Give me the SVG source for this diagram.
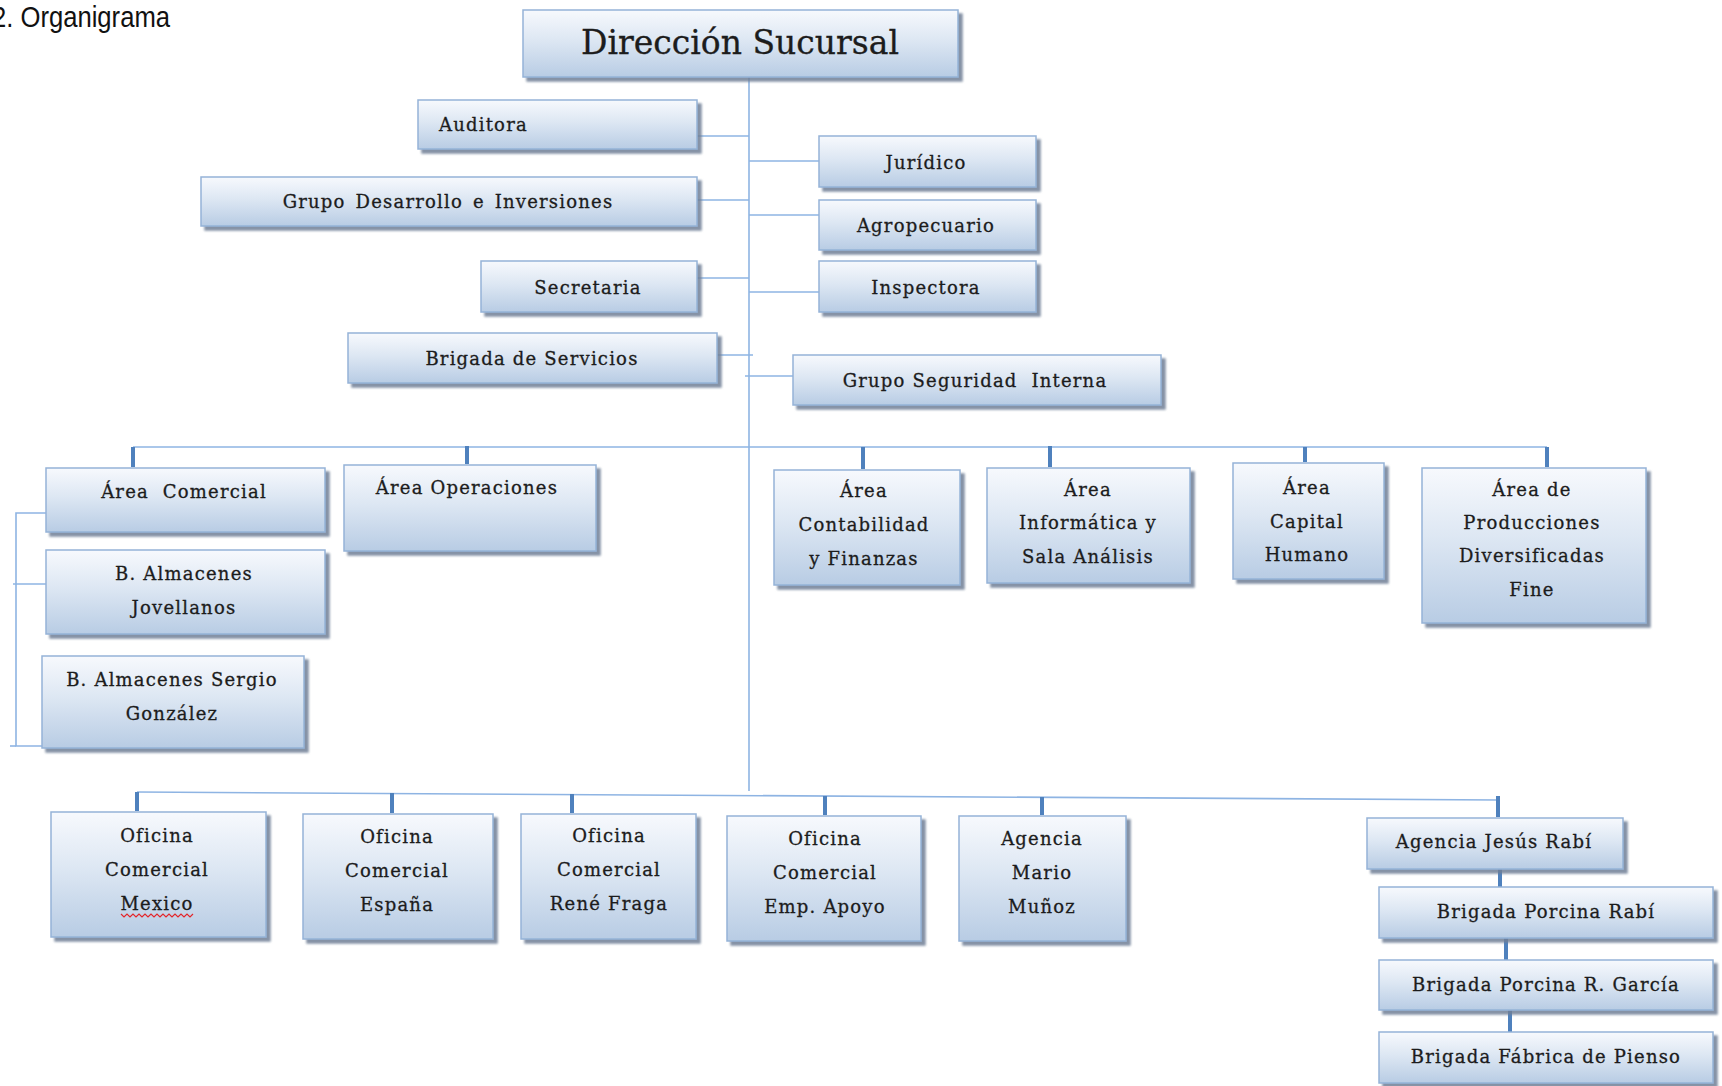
<svg xmlns="http://www.w3.org/2000/svg" width="1722" height="1086" viewBox="0 0 1722 1086">
<defs>
<linearGradient id="g" x1="0" y1="0" x2="0" y2="1">
<stop offset="0" stop-color="#f7f9fd"/>
<stop offset="0.45" stop-color="#dde7f3"/>
<stop offset="1" stop-color="#b8cce4"/>
</linearGradient>
<filter id="sh" x="-5%" y="-10%" width="115%" height="130%">
<feDropShadow dx="4" dy="4" stdDeviation="1.2" flood-color="#6f7f96" flood-opacity="0.85"/>
</filter>
</defs>
<style>
.b{fill:url(#g);stroke:#95b3d7;stroke-width:1.5;filter:url(#sh)}
.t{font-family:"DejaVu Serif","Liberation Serif",serif;font-size:18px;letter-spacing:1.2px;fill:#1c1c1c;stroke:#1c1c1c;stroke-width:0.3;text-anchor:middle}
.c{stroke:#8eb4e3;stroke-width:1.6;fill:none}
.k{stroke:#4f81bd;stroke-width:4;fill:none}
</style>
<rect width="1722" height="1086" fill="#ffffff"/>
<text x="-8" y="27" font-family="'Liberation Sans',Arial,sans-serif" font-size="29" textLength="178" lengthAdjust="spacingAndGlyphs" fill="#111">2. Organigrama</text>

<g id="connectors">
<line class="c" x1="749" y1="77" x2="749" y2="791"/>
<line class="c" x1="697" y1="136" x2="749" y2="136"/>
<line class="c" x1="697" y1="200" x2="749" y2="200"/>
<line class="c" x1="697" y1="278" x2="749" y2="278"/>
<line class="c" x1="717" y1="355" x2="753" y2="355"/>
<line class="c" x1="749" y1="161" x2="819" y2="161"/>
<line class="c" x1="749" y1="215" x2="819" y2="215"/>
<line class="c" x1="749" y1="292" x2="819" y2="292"/>
<line class="c" x1="745" y1="376" x2="793" y2="376"/>
<line class="c" x1="133" y1="447" x2="1547" y2="447"/>
<line class="k" x1="133" y1="447" x2="133" y2="467"/>
<line class="k" x1="467" y1="446" x2="467" y2="464"/>
<line class="k" x1="863" y1="447" x2="863" y2="469"/>
<line class="k" x1="1050" y1="446" x2="1050" y2="467"/>
<line class="k" x1="1305" y1="447" x2="1305" y2="462"/>
<line class="k" x1="1547" y1="447" x2="1547" y2="467"/>
<polyline class="c" points="46,513 16,513 16,746 42,746"/>
<line class="c" x1="13" y1="584" x2="46" y2="584"/>
<line class="c" x1="10" y1="746" x2="16" y2="746"/>
<line class="c" x1="137" y1="792" x2="1498" y2="800"/>
<line class="k" x1="137" y1="792" x2="137" y2="811"/>
<line class="k" x1="392" y1="793" x2="392" y2="813"/>
<line class="k" x1="572" y1="794" x2="572" y2="813"/>
<line class="k" x1="825" y1="796" x2="825" y2="815"/>
<line class="k" x1="1042" y1="797" x2="1042" y2="815"/>
<line class="k" x1="1498" y1="796" x2="1498" y2="817"/>
<line class="k" x1="1500" y1="869" x2="1500" y2="887"/>
<line class="k" x1="1506" y1="938" x2="1506" y2="960"/>
<line class="k" x1="1510" y1="1010" x2="1510" y2="1032"/>
</g>

<g id="n-direccion"><rect class="b" x="523" y="10" width="435" height="67"/><text class="t" x="740" y="54" style="font-size:33px;letter-spacing:0px">Dirección Sucursal</text></g>
<g id="n-auditora"><rect class="b" x="418" y="100" width="279" height="49"/><text class="t" x="439" y="131" style="text-anchor:start">Auditora</text></g>
<g id="n-grupo-desarrollo"><rect class="b" x="201" y="177" width="496" height="49"/><text class="t" x="448" y="208" style="word-spacing:3px">Grupo Desarrollo e Inversiones</text></g>
<g id="n-secretaria"><rect class="b" x="481" y="261" width="216" height="51"/><text class="t" x="588" y="294">Secretaria</text></g>
<g id="n-brigada-servicios"><rect class="b" x="348" y="333" width="369" height="50"/><text class="t" x="532" y="365">Brigada de Servicios</text></g>
<g id="n-juridico"><rect class="b" x="819" y="136" width="217" height="51"/><text class="t" x="926" y="169">Jurídico</text></g>
<g id="n-agropecuario"><rect class="b" x="819" y="200" width="217" height="50"/><text class="t" x="926" y="232">Agropecuario</text></g>
<g id="n-inspectora"><rect class="b" x="819" y="261" width="217" height="51"/><text class="t" x="926" y="294">Inspectora</text></g>
<g id="n-grupo-seguridad"><rect class="b" x="793" y="355" width="368" height="50"/><text class="t" x="975" y="387">Grupo Seguridad&#160; Interna</text></g>

<g id="n-area-comercial"><rect class="b" x="46" y="468" width="279" height="64"/><text class="t" x="184" y="498">Área&#160; Comercial</text></g>
<g id="n-area-operaciones"><rect class="b" x="344" y="465" width="252" height="86"/><text class="t" x="467" y="494">Área Operaciones</text></g>
<g id="n-b-jovellanos"><rect class="b" x="46" y="550" width="279" height="84"/><text class="t" x="184" y="580">B. Almacenes</text><text class="t" x="184" y="614">Jovellanos</text></g>
<g id="n-b-sergio"><rect class="b" x="42" y="656" width="262" height="92"/><text class="t" x="172" y="686">B. Almacenes Sergio</text><text class="t" x="172" y="720">González</text></g>
<g id="n-contabilidad"><rect class="b" x="774" y="470" width="186" height="115"/><text class="t" x="864" y="497">Área</text><text class="t" x="864" y="531">Contabilidad</text><text class="t" x="864" y="565">y Finanzas</text></g>
<g id="n-informatica"><rect class="b" x="987" y="468" width="203" height="115"/><text class="t" x="1088" y="496">Área</text><text class="t" x="1088" y="529">Informática y</text><text class="t" x="1088" y="563">Sala Análisis</text></g>
<g id="n-capital"><rect class="b" x="1233" y="463" width="151" height="116"/><text class="t" x="1307" y="494">Área</text><text class="t" x="1307" y="528">Capital</text><text class="t" x="1307" y="561">Humano</text></g>
<g id="n-producciones"><rect class="b" x="1422" y="468" width="224" height="155"/><text class="t" x="1532" y="496">Área de</text><text class="t" x="1532" y="529">Producciones</text><text class="t" x="1532" y="562">Diversificadas</text><text class="t" x="1532" y="596">Fine</text></g>

<g id="n-of-mexico"><rect class="b" x="51" y="812" width="215" height="125"/><text class="t" x="157" y="842">Oficina</text><text class="t" x="157" y="876">Comercial</text><text class="t" x="157" y="910">Mexico</text><polyline points="121,914 124,917 127,914 130,917 133,914 136,917 139,914 142,917 145,914 148,917 151,914 154,917 157,914 160,917 163,914 166,917 169,914 172,917 175,914 178,917 181,914 184,917 187,914 190,917 193,914" fill="none" stroke="#e3262a" stroke-width="1.2"/></g>
<g id="n-of-espana"><rect class="b" x="303" y="814" width="190" height="125"/><text class="t" x="397" y="843">Oficina</text><text class="t" x="397" y="877">Comercial</text><text class="t" x="397" y="911">España</text></g>
<g id="n-of-rene"><rect class="b" x="521" y="814" width="175" height="125"/><text class="t" x="609" y="842">Oficina</text><text class="t" x="609" y="876">Comercial</text><text class="t" x="609" y="910">René Fraga</text></g>
<g id="n-of-apoyo"><rect class="b" x="727" y="816" width="194" height="125"/><text class="t" x="825" y="845">Oficina</text><text class="t" x="825" y="879">Comercial</text><text class="t" x="825" y="913">Emp. Apoyo</text></g>
<g id="n-ag-mario"><rect class="b" x="959" y="816" width="167" height="125"/><text class="t" x="1042" y="845">Agencia</text><text class="t" x="1042" y="879">Mario</text><text class="t" x="1042" y="913">Muñoz</text></g>
<g id="n-ag-jesus"><rect class="b" x="1367" y="818" width="256" height="51"/><text class="t" x="1494" y="848">Agencia Jesús Rabí</text></g>
<g id="n-br-rabi"><rect class="b" x="1379" y="887" width="334" height="51"/><text class="t" x="1546" y="918">Brigada Porcina Rabí</text></g>
<g id="n-br-garcia"><rect class="b" x="1379" y="960" width="334" height="50"/><text class="t" x="1546" y="991">Brigada Porcina R. García</text></g>
<g id="n-br-pienso"><rect class="b" x="1379" y="1032" width="334" height="51"/><text class="t" x="1546" y="1063">Brigada Fábrica de Pienso</text></g>
</svg>
